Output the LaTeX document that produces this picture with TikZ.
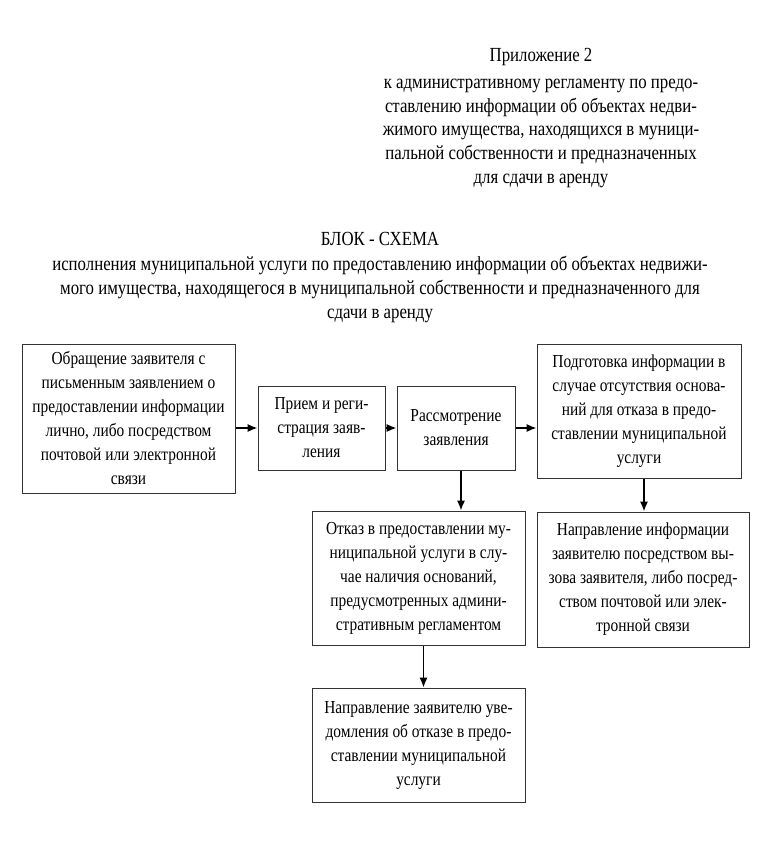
\documentclass[tikz,border=0pt]{standalone}
\usepackage{fontspec}
\setmainfont[FakeStretch=0.84]{Liberation Serif}
\usetikzlibrary{arrows.meta}

\tikzset{
    box/.style={draw=black!80, line width=0.6pt, align=center, inner sep=2pt,
        font=\fontsize{11}{14.4}\selectfont},
    plain/.style={align=center, inner sep=0pt, font=\fontsize{12}{14.2}\selectfont},
    arr/.style={-{Latex[length=6pt,width=5pt]}, line width=1pt}
}

\begin{document}
\begin{tikzpicture}[x=0.6pt, y=-0.6pt]
    \useasboundingbox[fill=white] (0,0) rectangle (782,849);

    % Appendix note
    \node[plain, anchor=north] (note) at (541,48) {Приложение 2\\[2pt]
        к административному регламенту по предо-\\
        ставлению информации об объектах недви-\\
        жимого имущества, находящихся в муници-\\
        пальной собственности и предназначенных\\
        для сдачи в аренду};

    % Heading
    \node[plain, anchor=north] (head) at (380,232) {БЛОК - СХЕМА\\[1pt]
        исполнения муниципальной услуги по предоставлению информации об объектах недвижи-\\
        мого имущества, находящегося в муниципальной собственности и предназначенного для\\
        сдачи в аренду};

    % Upper row
    \node[box, minimum width=127.8pt, minimum height=89.4pt] (appeal) at (128.5,418.5)
        {Обращение заявителя с\\ письменным заявлением о\\ предоставлении информации\\
         лично, либо посредством\\ почтовой или электронной\\ связи};
    \node[box, minimum width=76.2pt, minimum height=50.4pt] (reg) at (321.5,428)
        {Прием и реги-\\ страция заяв-\\ ления};
    \node[box, minimum width=70.8pt, minimum height=50.4pt] (review) at (456,428)
        {Рассмотрение\\ заявления};
    \node[box, minimum width=122.4pt, minimum height=80.4pt] (prep) at (639,411.5)
        {Подготовка информации в\\ случае отсутствия основа-\\ ний для отказа в предо-\\
         ставлении муниципальной\\ услуги};

    % Lower part
    \node[box, minimum width=127.8pt, minimum height=80.4pt] (refuse) at (418.5,578)
        {Отказ в предоставлении му-\\ ниципальной услуги в слу-\\ чае наличия оснований,\\
         предусмотренных админи-\\ стративным регламентом};
    \node[box, minimum width=127.2pt, minimum height=81pt] (send) at (643,579.5)
        {Направление информации\\ заявителю посредством вы-\\ зова заявителя, либо посред-\\
         ством почтовой или элек-\\ тронной связи};
    \node[box, minimum width=127.8pt, minimum height=68.4pt] (notify) at (418.5,745)
        {Направление заявителю уве-\\ домления об отказе в предо-\\ ставлении муниципальной\\ услуги};

    % Connectors
    \draw[arr] (appeal.east |- reg.west) -- (reg.west);
    \draw[arr] (reg.east) -- (review.west);
    \draw[arr] (review.east) -- (review.east -| prep.west);
    \draw[arr] ([xshift=3]review.south) -- ([xshift=3]review.south |- refuse.north);
    \draw[arr] ([xshift=3]prep.south) -- ([xshift=3]prep.south |- send.north);
    \draw[arr] ([xshift=3]refuse.south) -- ([xshift=3]refuse.south |- notify.north);
\end{tikzpicture}
\end{document}
